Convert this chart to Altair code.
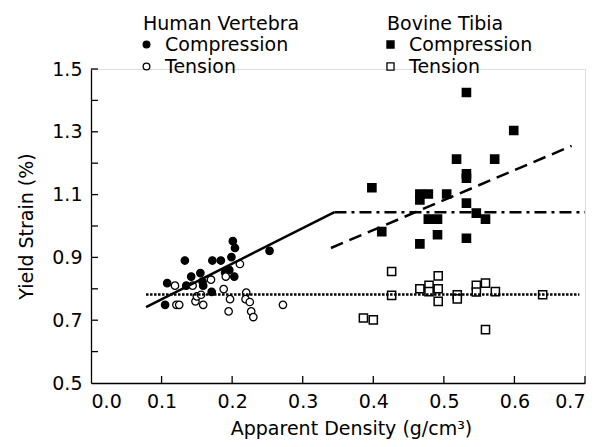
import altair as alt
import pandas as pd

# ---- data ----
hv_comp_x = [0.105, 0.108, 0.133, 0.135, 0.142, 0.155, 0.158, 0.159, 0.171, 0.172,
             0.184, 0.190, 0.196, 0.199, 0.201, 0.204, 0.203, 0.253]
hv_comp_y = [0.749, 0.818, 0.890, 0.810, 0.839, 0.850, 0.823, 0.810, 0.790, 0.890,
             0.890, 0.852, 0.860, 0.901, 0.952, 0.930, 0.839, 0.921]

hv_ten_x = [0.119, 0.121, 0.125, 0.144, 0.148, 0.150, 0.156, 0.159, 0.170, 0.188,
            0.191, 0.197, 0.195, 0.211, 0.220, 0.219, 0.225, 0.227, 0.230, 0.272]
hv_ten_y = [0.810, 0.749, 0.749, 0.810, 0.760, 0.776, 0.781, 0.749, 0.829, 0.799,
            0.839, 0.767, 0.728, 0.879, 0.788, 0.767, 0.758, 0.728, 0.710, 0.749]

bt_comp_x = [0.532, 0.599, 0.518, 0.572, 0.532, 0.532, 0.466, 0.466, 0.478, 0.504,
             0.532, 0.546, 0.559, 0.478, 0.491, 0.491, 0.532, 0.466, 0.412, 0.398]
bt_comp_y = [1.425, 1.304, 1.213, 1.213, 1.166, 1.152, 1.102, 1.083, 1.102, 1.102,
             1.073, 1.041, 1.022, 1.022, 1.022, 0.972, 0.961, 0.943, 0.982, 1.122]

bt_ten_x = [0.426, 0.426, 0.466, 0.479, 0.479, 0.492, 0.492, 0.492, 0.519, 0.519,
            0.546, 0.546, 0.559, 0.573, 0.640, 0.559, 0.386, 0.400]
bt_ten_y = [0.855, 0.779, 0.800, 0.811, 0.791, 0.841, 0.800, 0.760, 0.781, 0.768,
            0.811, 0.790, 0.818, 0.791, 0.781, 0.670, 0.707, 0.701]

# fitted lines
solid_x = [0.078, 0.345]
solid_y = [0.742, 1.044]
dashdot_x = [0.345, 0.700]
dashdot_y = [1.044, 1.044]
dotted_x = [0.078, 0.692]
dotted_y = [0.782, 0.782]
dashed_x = [0.340, 0.681]
dashed_y = [0.930, 1.255]

x_ticks = [0.1, 0.2, 0.3, 0.4, 0.5, 0.6, 0.7]
x_labels = [0.0, 0.1, 0.2, 0.3, 0.4, 0.5, 0.6, 0.7]
y_ticks = [0.6, 0.7, 0.8, 0.9, 1.0, 1.1, 1.2, 1.3, 1.4, 1.5]
y_labels = [0.5, 0.7, 0.9, 1.1, 1.3, 1.5]
tests = ["Compression", "Tension"]

W, H = 494, 314
FONT = "DejaVu Sans"
FS = 19

xs = alt.Scale(domain=[0, 0.7], nice=False, zero=False)
ys = alt.Scale(domain=[0.5, 1.5], nice=False, zero=False)

common = dict(domainColor="black", domainWidth=1.3, labelFont=FONT,
              labelFontSize=FS, labelColor="black", titleFont=FONT,
              titleFontSize=FS, titleColor="black", titleFontWeight="normal",
              ticks=False, grid=False, format=".1f")

x_axis = alt.Axis(values=x_labels, labelPadding=9,
                  title="Apparent Density (g/cm³)",
                  titleX=260, titleY=51, titleBaseline="alphabetic",
                  titleAnchor="middle", **common)
y_axis = alt.Axis(values=y_labels, labelPadding=9, title="Yield Strain (%)",
                  titlePadding=15, **common)

X = alt.X("x:Q", scale=xs, axis=x_axis)
Y = alt.Y("y:Q", scale=ys, axis=y_axis)

hv_df = pd.concat([
    pd.DataFrame({"x": hv_comp_x, "y": hv_comp_y, "hv": tests[0]}),
    pd.DataFrame({"x": hv_ten_x, "y": hv_ten_y, "hv": tests[1]}),
])
bt_df = pd.concat([
    pd.DataFrame({"x": bt_comp_x, "y": bt_comp_y, "bt": tests[0]}),
    pd.DataFrame({"x": bt_ten_x, "y": bt_ten_y, "bt": tests[1]}),
])


def legend(title, lx, ly, sym, size):
    return alt.Legend(
        title=title, orient="none", legendX=lx, legendY=ly, padding=0,
        symbolType=sym, symbolSize=size, symbolStrokeColor="black",
        symbolStrokeWidth=1.3, symbolOffset=-6, labelFont=FONT,
        labelFontSize=FS, labelColor="black", titleFont=FONT,
        titleFontSize=FS, titleFontWeight="normal", titleColor="black",
        titlePadding=1, rowPadding=2, labelOffset=9, labelLimit=300,
        titleLimit=300,
    )


human = alt.Chart(hv_df).mark_point(
    filled=True, stroke="black", strokeWidth=1.3, opacity=1, size=55
).encode(
    x=X, y=Y,
    fill=alt.Fill("hv:N", scale=alt.Scale(domain=tests, range=["black", "white"]),
                  legend=legend("Human Vertebra", 52, -54, "circle", 45)),
    shape=alt.value("circle"),
)

bovine = alt.Chart(bt_df).mark_point(
    filled=True, stroke="black", strokeWidth=1.5, opacity=1, size=66
).encode(
    x=X, y=Y,
    fill=alt.Fill("bt:N", scale=alt.Scale(domain=tests, range=["black", "white"]),
                  legend=legend("Bovine Tibia", 296, -54, "square", 50)),
    shape=alt.value("square"),
)


def line(xv, yv, dash):
    df = pd.DataFrame({"x": xv, "y": yv})
    kw = dict(color="black", strokeWidth=2.5)
    if dash:
        kw["strokeDash"] = dash
    return alt.Chart(df).mark_line(**kw).encode(x=X, y=Y)


l_solid = line(solid_x, solid_y, None)
l_dashdot = line(dashdot_x, dashdot_y, [12, 5, 3, 5])
l_dotted = line(dotted_x, dotted_y, [2.5, 1.5])
l_dashed = line(dashed_x, dashed_y, [13, 7])

xt = alt.Chart(pd.DataFrame({"x": x_ticks})).mark_rule(color="black", strokeWidth=1.3).encode(
    x=X, y=alt.value(H), y2=alt.value(H - 7))
yt = alt.Chart(pd.DataFrame({"y": y_ticks})).mark_rule(color="black", strokeWidth=1.3).encode(
    y=Y, x=alt.value(0), x2=alt.value(7))

chart = alt.layer(
    human, bovine, l_solid, l_dashdot, l_dotted, l_dashed, xt, yt
).resolve_scale(fill="independent").properties(
    width=W, height=H,
    autosize=alt.AutoSizeParams(type="none"),
    padding={"left": 83, "top": 61, "right": 8, "bottom": 56},
).configure_view(stroke=None).configure(background="white")

chart.save("out.html", embed_options={"renderer": "svg", "actions": False})
